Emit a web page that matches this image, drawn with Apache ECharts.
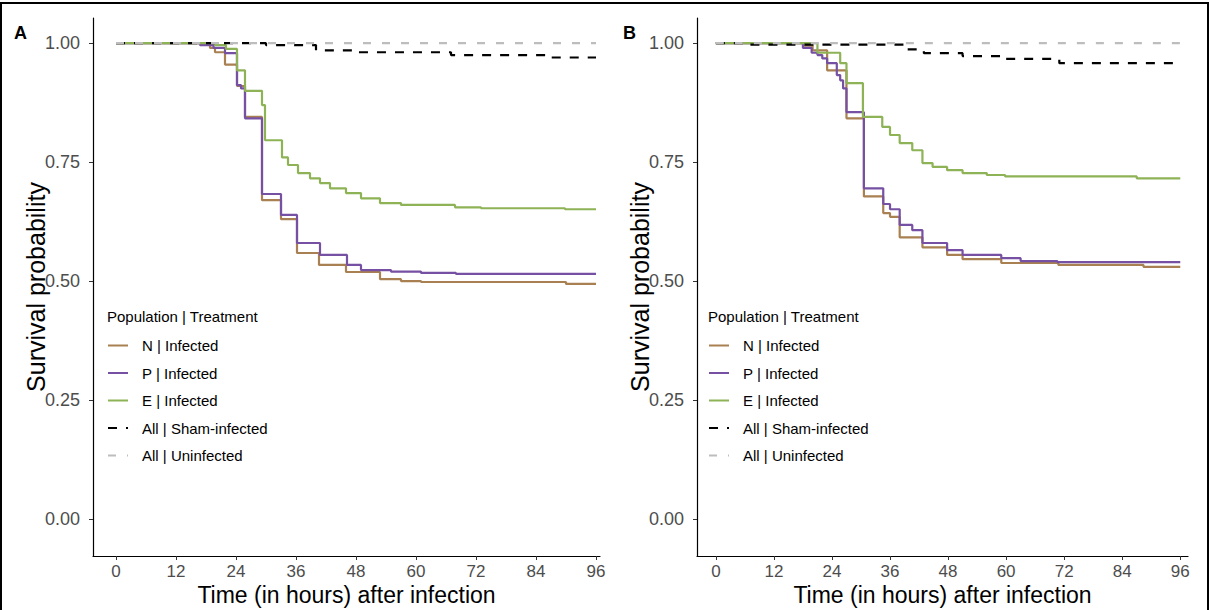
<!DOCTYPE html>
<html>
<head>
<meta charset="utf-8">
<script src="https://cdn.jsdelivr.net/npm/echarts@6/dist/echarts.min.js"></script>
<style>
  html, body { margin: 0; padding: 0; background: #fff; }
  #chart { width: 1210px; height: 610px; }
</style>
</head>
<body>
<div id="chart"></div>
<script>
// tick labels
const timeTicks = [0, 12, 24, 36, 48, 60, 72, 84, 96]
const survTicks = [0, 0.25, 0.5, 0.75, 1]
const legendNames = ['N | Infected', 'P | Infected', 'E | Infected', 'All | Sham-infected', 'All | Uninfected']

// panel A: [hours, survival]
const aN = [[0, 1], [18.8, 0.99], [19.8, 0.981], [21.8, 0.955], [24.2, 0.91], [25.8, 0.845], [29.2, 0.67], [33, 0.63], [36.2, 0.559], [40.6, 0.534], [46, 0.519], [52.8, 0.504], [57, 0.5], [61, 0.498], [90, 0.494], [96, 0.494]]
const aP = [[0, 1], [16.8, 0.996], [19.5, 0.99], [21.8, 0.979], [24.2, 0.912], [25, 0.905], [25.8, 0.842], [29.2, 0.683], [33, 0.639], [36.2, 0.58], [40.8, 0.555], [46.2, 0.534], [49, 0.523], [55, 0.52], [61, 0.517], [68, 0.515], [96, 0.515]]
const aE = [[0, 1], [19.8, 0.996], [22, 0.988], [24.2, 0.943], [25.8, 0.9], [29.2, 0.87], [29.8, 0.796], [33.2, 0.76], [34.4, 0.744], [36.4, 0.727], [38.8, 0.716], [40.8, 0.706], [42.8, 0.695], [46, 0.685], [49, 0.674], [52.8, 0.664], [57, 0.66], [67.8, 0.655], [73, 0.653], [89.8, 0.651], [96, 0.651]]
const aSham = [[0, 1], [30, 0.996], [40, 0.985], [48, 0.981], [67, 0.975], [86, 0.97], [96, 0.97]]
const aUninf = [[0, 1], [96, 1]]

// panel B: [hours, survival]
const bN = [[0, 1], [18, 0.995], [20, 0.985], [23, 0.943], [27, 0.842], [30.6, 0.678], [34.6, 0.643], [36, 0.635], [38, 0.592], [42.7, 0.571], [47.8, 0.555], [51, 0.546], [59, 0.538], [70.8, 0.534], [88.4, 0.53], [96, 0.53]]
const bP = [[0, 1], [18, 0.99], [19.8, 0.98], [21, 0.975], [22, 0.968], [23, 0.958], [25, 0.933], [25.7, 0.922], [26.3, 0.905], [27, 0.855], [30.6, 0.695], [34.6, 0.662], [36, 0.651], [38, 0.618], [40.6, 0.607], [42.7, 0.58], [47.8, 0.565], [51, 0.555], [59, 0.548], [63, 0.542], [70.6, 0.54], [96, 0.54]]
const bE = [[0, 1], [21, 0.98], [25.7, 0.958], [27, 0.916], [30.4, 0.845], [34.4, 0.824], [36, 0.807], [38, 0.79], [40.6, 0.775], [42.7, 0.748], [44.8, 0.74], [47.8, 0.733], [51, 0.727], [56, 0.723], [59.8, 0.72], [87, 0.716], [96, 0.716]]
const bSham = [[0, 1], [6, 0.997], [39, 0.987], [43, 0.979], [51, 0.973], [59, 0.967], [71, 0.958], [96, 0.958]]
const bUninf = [[0, 1], [96, 1]]

const FONT = 'Liberation Sans, Arial, sans-serif'
const colors = ['#a88052', '#7650a3', '#8db356', '#000000', '#bdbdbd']

const chart = echarts.init(document.getElementById('chart'), null, { renderer: 'svg' })

const makeX = (idx, min, max) => ({
  type: 'value', gridIndex: idx, min: min, max: max,
  splitLine: { show: false },
  axisLine: { show: true, onZero: false, lineStyle: { color: '#000', width: 1.2 } },
  axisTick: { show: true, length: 4, customValues: timeTicks, lineStyle: { color: '#333' } },
  axisLabel: { customValues: timeTicks, margin: 7, fontSize: 17, color: '#4d4d4d', fontFamily: FONT },
  name: 'Time (in hours) after infection', nameLocation: 'middle', nameGap: 27, nameMoveOverlap: false,
  nameTextStyle: { fontSize: 23, color: '#000', fontFamily: FONT, verticalAlign: 'top' }
})

const makeY = (idx) => ({
  type: 'value', gridIndex: idx, min: -0.078, max: 1.053,
  splitLine: { show: false },
  axisLine: { show: true, onZero: false, lineStyle: { color: '#000', width: 1.2 } },
  axisTick: { show: true, length: 4, customValues: survTicks, lineStyle: { color: '#333' } },
  axisLabel: { customValues: survTicks, margin: 13, fontSize: 18, color: '#4d4d4d', fontFamily: FONT,
    formatter: v => v.toFixed(2) },
  name: 'Survival probability', nameLocation: 'middle', nameGap: 45, nameRotate: 90, nameMoveOverlap: false,
  nameTextStyle: { fontSize: 25, color: '#000', fontFamily: FONT }
})

const makeSeries = (idx, list) => list.map((d, i) => ({
  name: legendNames[i],
  type: 'line',
  step: 'end',
  xAxisIndex: idx, yAxisIndex: idx,
  symbol: 'none',
  data: d,
  color: colors[i],
  lineStyle: {
    width: 2.2,
    color: colors[i],
    type: i === 3 ? [9, 9] : (i === 4 ? [8, 11] : 'solid')
  },
  silent: true,
  z: 2 + i
}))

const makeLegend = (left) => ({
  orient: 'vertical', left: left, top: 333,
  itemWidth: 20, itemHeight: 14, itemGap: 12.5,
  data: legendNames,
  selectedMode: false,
  itemStyle: { opacity: 0 },
  lineStyle: { width: 2 },
  textStyle: { fontSize: 15, color: '#000', fontFamily: FONT, padding: [0, 0, 0, 9] }
})

const option = {
  animation: false,
  title: [
    { text: 'A', left: 9, top: 19, textStyle: { fontSize: 18, fontWeight: 'bold', fontFamily: FONT, color: '#000' } },
    { text: 'B', left: 618, top: 19, textStyle: { fontSize: 18, fontWeight: 'bold', fontFamily: FONT, color: '#000' } },
    { text: 'Population | Treatment', left: 102, top: 304, textStyle: { fontSize: 15, fontWeight: 'normal', fontFamily: FONT, color: '#000' } },
    { text: 'Population | Treatment', left: 703, top: 304, textStyle: { fontSize: 15, fontWeight: 'normal', fontFamily: FONT, color: '#000' } }
  ],
  legend: [makeLegend(102), makeLegend(703)],
  grid: [
    { left: 93, top: 18, width: 507, height: 538, outerBoundsMode: 'none', containLabel: false },
    { left: 697, top: 18, width: 491, height: 538, outerBoundsMode: 'none', containLabel: false }
  ],
  xAxis: [makeX(0, -4.6, 96.8), makeX(1, -3.9, 97.6)],
  yAxis: [makeY(0), makeY(1)],
  series: makeSeries(0, [aN, aP, aE, aSham, aUninf]).concat(makeSeries(1, [bN, bP, bE, bSham, bUninf])),
  graphic: [
    { type: 'rect', shape: { x: 1, y: 3, width: 1207, height: 640 }, style: { fill: 'none', stroke: '#000', lineWidth: 2 }, silent: true }
  ]
}

chart.setOption(option)
</script>
</body>
</html>
